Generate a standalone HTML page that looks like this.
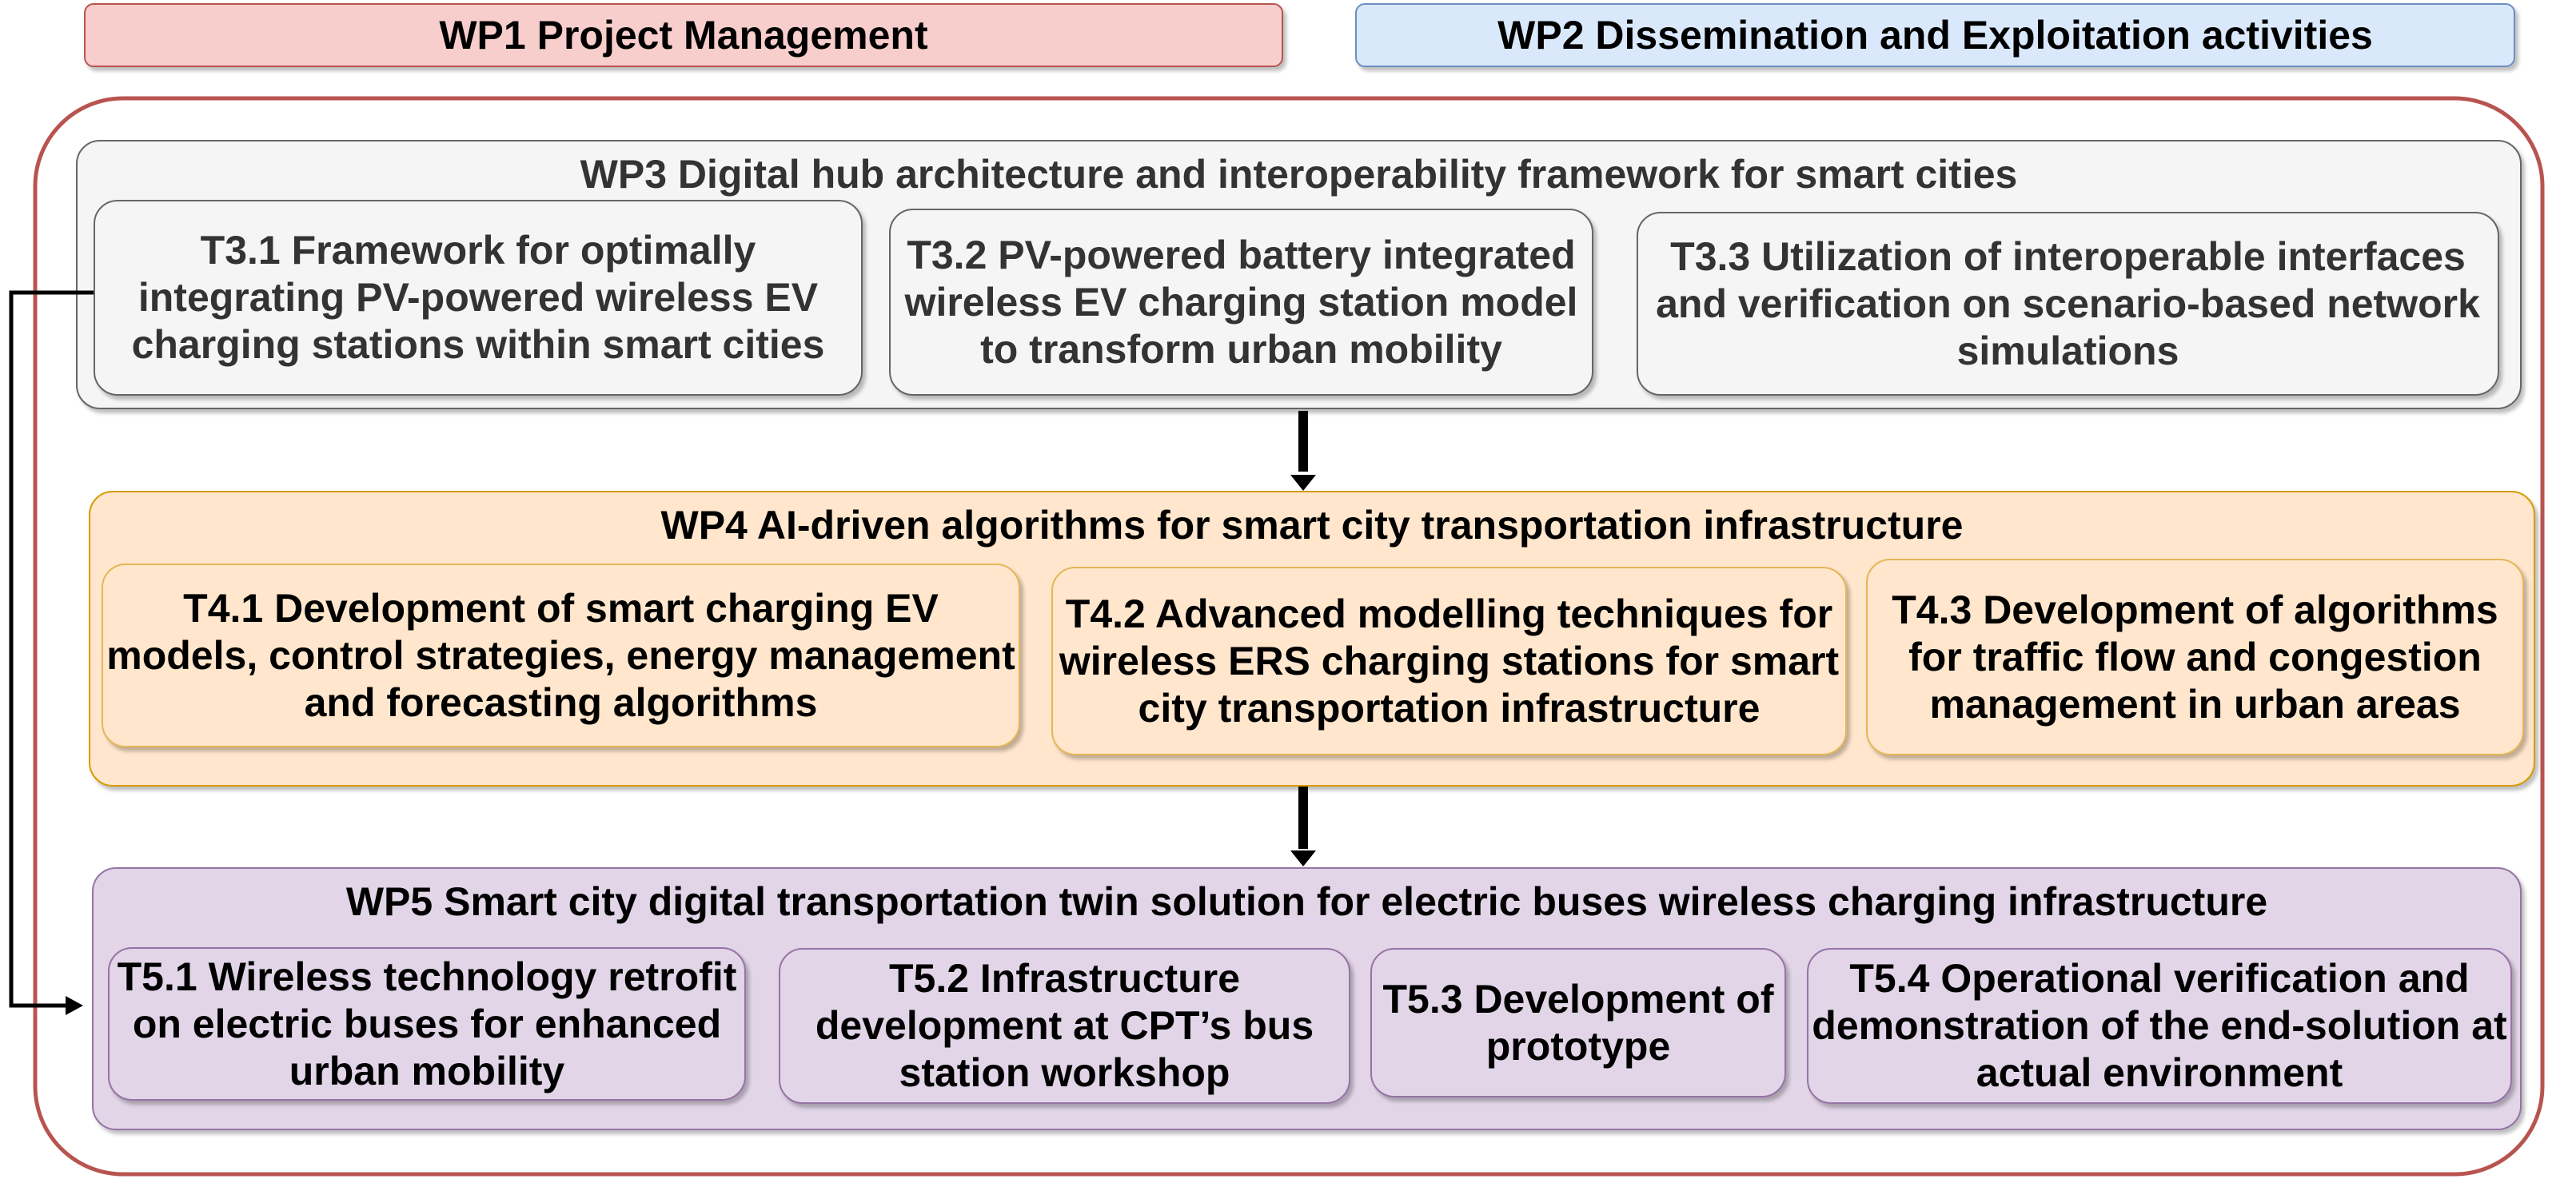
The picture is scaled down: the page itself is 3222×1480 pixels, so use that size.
<!DOCTYPE html>
<html><head><meta charset="utf-8"><style>
body{margin:0;width:3222px;height:1480px;background:#fff;position:relative;overflow:hidden;font-family:"Liberation Sans",Arial,sans-serif;font-weight:bold}
.b{position:absolute;box-sizing:border-box;display:flex;align-items:center;justify-content:center;text-align:center;border-radius:30px;border:2px solid;box-shadow:4px 5px 5px rgba(0,0,0,.25)}
.wp{align-items:flex-start;padding-top:12px;font-size:50px;color:#000}
.t{font-size:50px;line-height:59px;padding:0 4px}
.g{background:#f5f5f5;border-color:#666;color:#333}
.o{background:#ffe6cc;border-color:#d79b00;color:#000}
.ot{background:#ffe6cc;border-color:#e6b656;color:#000}
.p{background:#e1d5e7;border-color:#9673a6;color:#000}
</style></head><body>
<div class="b" style="left:105px;top:4px;width:1500px;height:80px;background:#f8cecc;border-color:#b85450;border-radius:12px;font-size:50px">WP1 Project Management</div>
<div class="b" style="left:1695px;top:4px;width:1451px;height:80px;background:#dae8fc;border-color:#6c8ebf;border-radius:12px;font-size:50px">WP2 Dissemination and Exploitation activities</div>
<svg style="position:absolute;left:0;top:0" width="3222" height="1480">
<rect x="44" y="123" width="3136" height="1346" rx="110" ry="110" fill="none" stroke="#b85450" stroke-width="5"/>
</svg>
<div class="b wp g" style="left:95px;top:175px;width:3059px;height:337px">WP3 Digital hub architecture and interoperability framework for smart cities</div>
<div class="b t g" style="left:117px;top:250px;width:962px;height:245px;padding:0 40px">T3.1 Framework for optimally integrating PV-powered wireless EV charging stations within smart cities</div>
<div class="b t g" style="left:1112px;top:261px;width:881px;height:234px">T3.2 PV-powered battery integrated wireless EV charging station model to transform urban mobility</div>
<div class="b t g" style="left:2047px;top:265px;width:1079px;height:230px">T3.3 Utilization of interoperable interfaces and verification on scenario-based network simulations</div>
<div class="b wp o" style="left:111px;top:614px;width:3060px;height:370px">WP4 AI-driven algorithms for smart city transportation infrastructure</div>
<div class="b t ot" style="left:127px;top:705px;width:1149px;height:230px">T4.1 Development of smart charging EV models, control strategies, energy management and forecasting algorithms</div>
<div class="b t ot" style="left:1315px;top:709px;width:995px;height:236px">T4.2 Advanced modelling techniques for wireless ERS charging stations for smart city transportation infrastructure</div>
<div class="b t ot" style="left:2334px;top:699px;width:823px;height:246px">T4.3 Development of algorithms for traffic flow and congestion management in urban areas</div>
<div class="b wp p" style="left:115px;top:1085px;width:3039px;height:329px">WP5 Smart city digital transportation twin solution for electric buses wireless charging infrastructure</div>
<div class="b t p" style="left:135px;top:1185px;width:798px;height:192px">T5.1 Wireless technology retrofit on electric buses for enhanced urban mobility</div>
<div class="b t p" style="left:974px;top:1186px;width:715px;height:195px;padding:0 20px">T5.2 Infrastructure development at CPT’s bus station workshop</div>
<div class="b t p" style="left:1714px;top:1186px;width:520px;height:187px;padding:0;white-space:nowrap">T5.3 Development of<br>prototype</div>
<div class="b t p" style="left:2260px;top:1186px;width:882px;height:195px">T5.4 Operational verification and demonstration of the end-solution at actual environment</div>
<svg style="position:absolute;left:0;top:0" width="3222" height="1480">
<line x1="1630" y1="514" x2="1630" y2="590" stroke="#000" stroke-width="12"/>
<polygon points="1614,594 1646,594 1630,614" fill="#000"/>
<line x1="1630" y1="984" x2="1630" y2="1062" stroke="#000" stroke-width="12"/>
<polygon points="1614,1064 1646,1064 1630,1084" fill="#000"/>
<polyline points="117,366 14,366 14,1258 86,1258" fill="none" stroke="#000" stroke-width="5"/>
<polygon points="82,1246 104,1258 82,1270" fill="#000"/>
</svg>
</body></html>
